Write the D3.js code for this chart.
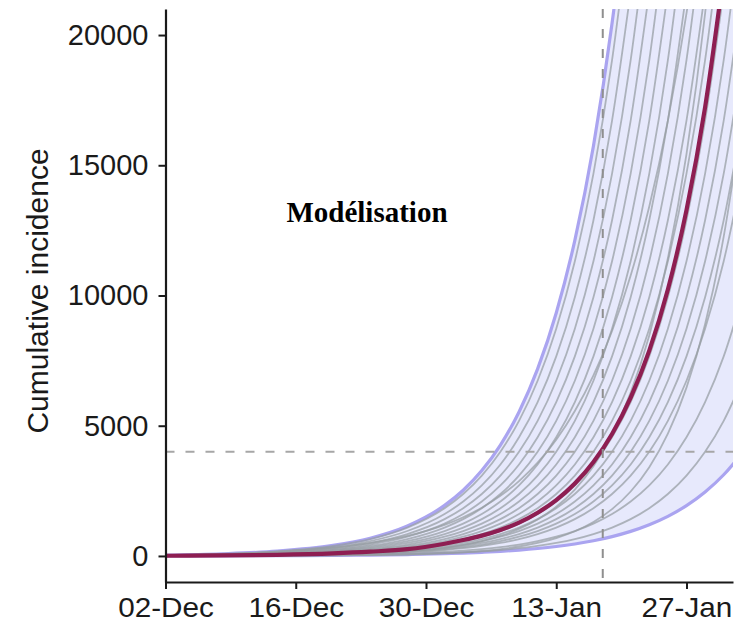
<!DOCTYPE html>
<html>
<head>
<meta charset="utf-8">
<script src="https://cdn.jsdelivr.net/npm/d3@7"></script>
<style>
  html, body { margin: 0; padding: 0; background: #ffffff; }
  svg { display: block; }
</style>
</head>
<body>
<svg id="chart" width="743" height="623"></svg>
<script>
// ---------------- data ----------------
const startDate = new Date(2019, 11, 2);   // 02-Dec
const endDay = 61;                          // right edge of the panel
const gridDays = [0, 6, 12, 18, 22, 26, 30, 32, 34, 36, 38, 40, 42, 44, 46, 48, 50, 52, 54, 56, 58, 60, 62];

const upperBound = [30, 84, 184, 404, 682, 1151, 1942, 2522, 3277, 4256, 5529, 7182, 9330, 12120, 15740, 20450, 26570, 34500, 44800, 58200, 75600, 98200, 127500];
const lowerBound = [2, 5, 10, 20, 33, 53, 86, 109, 139, 176, 224, 285, 362, 460, 584, 742, 943, 1198, 1521, 1932, 2455, 3118, 3960];
const median = [8, 20, 45, 100, 165, 260, 470, 610, 780, 1000, 1280, 1660, 2143, 2780, 3608, 4681, 6075, 7883, 10230, 13276, 17228, 22357];

const simulations = [
  [37, 81, 177, 385, 648, 1090, 1834, 2378, 3084, 4000, 5188, 6728, 8725, 11316, 14676, 19033, 24684],
  [33, 71, 155, 338, 569, 957, 1610, 2088, 2708, 3512, 4555, 5908, 7662, 9937, 12888, 16716, 21677],
  [29, 62, 136, 297, 500, 841, 1414, 1834, 2378, 3084, 4000, 5188, 6728, 8725, 11316, 14676, 19033, 24684],
  [25, 55, 120, 261, 439, 738, 1241, 1610, 2088, 2708, 3512, 4555, 5908, 7662, 9937, 12888, 16716, 21677],
  [20, 60, 165, 319, 495, 768, 1193, 1486, 1852, 2308, 2876, 3583, 4465, 5564, 6933, 8639, 10765, 13414, 16716, 20828, 25958],
  [22, 48, 105, 229, 385, 648, 1090, 1414, 1834, 2378, 3084, 4000, 5188, 6728, 8725, 11316, 14676, 19033, 24684],
  [19, 42, 92, 201, 338, 569, 957, 1241, 1610, 2088, 2708, 3512, 4555, 5908, 7662, 9937, 12888, 16716, 21677],
  [17, 37, 81, 177, 297, 500, 841, 1090, 1414, 1834, 2378, 3084, 4000, 5188, 6728, 8725, 11316, 14676, 19033, 24684],
  [15, 33, 71, 155, 261, 439, 738, 957, 1241, 1610, 2088, 2708, 3512, 4555, 5908, 7662, 9937, 12888, 16716, 21677],
  [13, 29, 62, 136, 229, 385, 648, 841, 1090, 1414, 1834, 2378, 3084, 4000, 5188, 6728, 8725, 11316, 14676, 19033, 24684],
  [12, 25, 55, 120, 201, 338, 569, 738, 957, 1241, 1610, 2088, 2708, 3512, 4555, 5908, 7662, 9937, 12888, 16716, 21677],
  [10, 22, 48, 105, 177, 297, 500, 648, 841, 1090, 1414, 1834, 2378, 3084, 4000, 5188, 6728, 8725, 11316, 14676, 19033, 24684],
  [3, 9, 21, 52, 94, 171, 312, 422, 569, 768, 1037, 1400, 1890, 2550, 3443, 4647, 6274, 8468, 11430, 15430, 20828, 28115],
  [9, 19, 42, 92, 155, 261, 439, 569, 738, 957, 1241, 1610, 2088, 2708, 3512, 4555, 5908, 7662, 9937, 12888, 16716, 21677],
  [8, 17, 37, 81, 136, 229, 385, 500, 648, 841, 1090, 1414, 1834, 2378, 3084, 4000, 5188, 6728, 8725, 11316, 14676, 19033, 24684],
  [7, 15, 33, 71, 120, 201, 338, 439, 569, 738, 957, 1241, 1610, 2088, 2708, 3512, 4555, 5908, 7662, 9937, 12888, 16716, 21677],
  [6, 13, 29, 62, 105, 177, 297, 385, 500, 648, 841, 1090, 1414, 1834, 2378, 3084, 4000, 5188, 6728, 8725, 11316, 14676, 19033],
  [5, 12, 25, 55, 92, 155, 261, 338, 439, 569, 738, 957, 1241, 1610, 2088, 2708, 3512, 4555, 5908, 7662, 9937, 12888, 16716],
  [5, 10, 22, 48, 81, 136, 229, 297, 385, 500, 648, 841, 1090, 1414, 1834, 2378, 3084, 4000, 5188, 6728, 8725, 11316, 14676],
  [2, 6, 11, 21, 34, 53, 101, 139, 191, 263, 363, 500, 688, 948, 1305, 1797, 2475, 3409, 4694, 6464, 8902, 12258, 16880],
  [3, 7, 15, 33, 55, 92, 155, 201, 261, 338, 439, 569, 738, 957, 1241, 1610, 2088, 2708, 3512, 4555, 5908, 7662, 9937],
  [2, 5, 10, 22, 37, 62, 105, 136, 177, 229, 297, 385, 500, 648, 841, 1090, 1414, 1834, 2378, 3084, 4000, 5188, 6728]
];

const xTickDays = [0, 14, 28, 42, 56];
const xTickLabels = ["02-Dec", "16-Dec", "30-Dec", "13-Jan", "27-Jan"];
const yTicks = [0, 5000, 10000, 15000, 20000];
const yDomain = [-1000, 21000];
const thresholdValue = 4000;
const thresholdDay = 47;   // 18-Jan
const yTitle = "Cumulative incidence";
const panelLabel = "Modélisation";

// ---------------- drawing ----------------
(function () {
const svg = d3.select("#chart");
const pLeft = 165.5, pRight = 733, pTop = 9, pBottom = 582;
const dayToDate = d => d3.timeDay.offset(startDate, d);

const x = d3.scaleTime().domain([startDate, dayToDate(endDay)]).range([pLeft, pRight]);
const y = d3.scaleLinear().domain(yDomain).range([pBottom, pTop]);

svg.append("defs").append("clipPath").attr("id", "plotclip")
  .append("rect").attr("x", pLeft).attr("y", pTop).attr("width", pRight - pLeft).attr("height", pBottom - pTop);

const plot = svg.append("g").attr("clip-path", "url(#plotclip)");

const toPts = vals => vals.map((v, i) => ({ date: dayToDate(gridDays[i]), v }));

// band
const bandData = gridDays.map((d, i) => ({ date: dayToDate(d), lo: lowerBound[i], hi: upperBound[i] }));
plot.append("path")
  .datum(bandData)
  .attr("fill", "#e7e9fc")
  .attr("d", d3.area().curve(d3.curveMonotoneX)
    .x(d => x(d.date)).y0(d => y(d.lo)).y1(d => y(d.hi)));

const line = d3.line().curve(d3.curveMonotoneX).x(d => x(d.date)).y(d => y(d.v));

[upperBound, lowerBound].forEach(b => {
  plot.append("path").datum(toPts(b))
    .attr("fill", "none").attr("stroke", "#aaa4f0").attr("stroke-width", 3.2)
    .attr("d", line);
});

// simulations
plot.append("g").selectAll("path").data(simulations).join("path")
  .attr("fill", "none").attr("stroke", "#959ca2").attr("stroke-opacity", 0.72)
  .attr("stroke-width", 1.8)
  .attr("d", s => line(toPts(s)));

// dashed reference lines
svg.append("line")
  .attr("x1", pLeft).attr("x2", pRight).attr("y1", y(thresholdValue)).attr("y2", y(thresholdValue))
  .attr("stroke", "#a6a6a6").attr("stroke-width", 2.2).attr("stroke-dasharray", "9,11");
svg.append("line")
  .attr("x1", x(dayToDate(thresholdDay))).attr("x2", x(dayToDate(thresholdDay)))
  .attr("y1", pTop).attr("y2", pBottom)
  .attr("stroke", "#8f8f8f").attr("stroke-width", 2).attr("stroke-dasharray", "9,11");

// median
plot.append("path").datum(toPts(median))
  .attr("fill", "none").attr("stroke", "#8e1e52").attr("stroke-width", 4.2)
  .attr("stroke-linecap", "round")
  .attr("d", line);

// axes
const font = "'Liberation Sans', Arial, Helvetica, sans-serif";
const xAxis = svg.append("g").attr("transform", `translate(0,${pBottom})`)
  .call(d3.axisBottom(x)
    .tickValues(xTickDays.map(dayToDate))
    .tickFormat((d, i) => xTickLabels[i])
    .tickSize(7).tickSizeOuter(0).tickPadding(9));
const yAxis = svg.append("g").attr("transform", `translate(${pLeft},0)`)
  .call(d3.axisLeft(y)
    .tickValues(yTicks)
    .tickFormat(d3.format("d"))
    .tickSize(7).tickSizeOuter(0).tickPadding(10));

[xAxis, yAxis].forEach(g => {
  g.select(".domain").attr("stroke", "#1a1a1a").attr("stroke-width", 2.2);
  g.selectAll(".tick line").attr("stroke", "#1a1a1a").attr("stroke-width", 2);
  g.selectAll(".tick text").attr("fill", "#1a1a1a").style("font-family", font);
});
yAxis.selectAll(".tick text").style("font-size", "29px");
xAxis.selectAll(".tick text").style("font-size", "27px").attr("transform", "scale(1.1,1)");

// titles
svg.append("text")
  .attr("transform", "translate(48,291) rotate(-90)")
  .attr("text-anchor", "middle")
  .attr("fill", "#1a1a1a")
  .style("font-family", font).style("font-size", "30px")
  .text(yTitle);

svg.append("text")
  .attr("x", 367).attr("y", 222)
  .attr("text-anchor", "middle")
  .attr("fill", "#000")
  .style("font-family", "'Liberation Serif', 'Times New Roman', serif")
  .style("font-weight", "bold").style("font-size", "29px")
  .text(panelLabel);
})();
</script>
</body>
</html>
